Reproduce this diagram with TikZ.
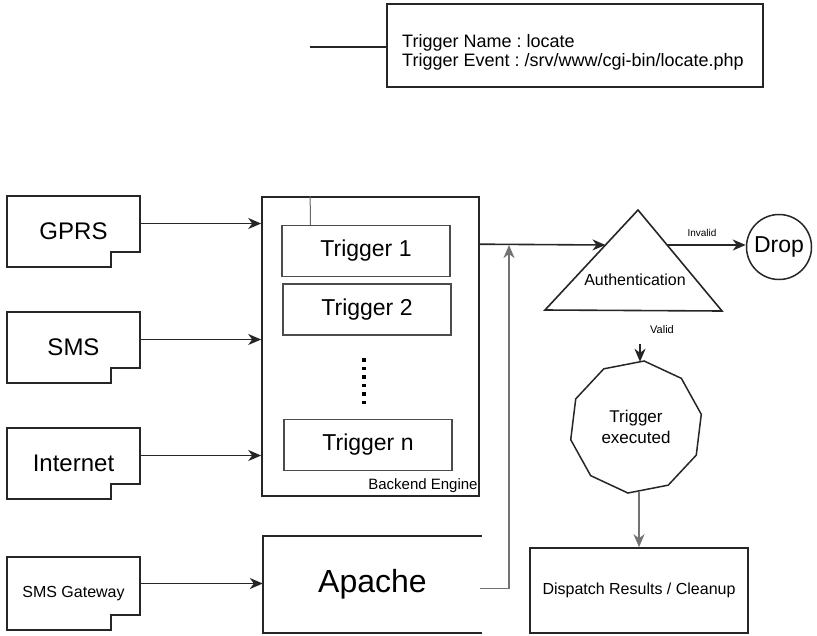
\documentclass[tikz,border=0pt]{standalone}
\usepackage{fontspec}
\setmainfont{Liberation Sans}
\usetikzlibrary{arrows.meta,shapes.geometric,calc}
\frenchspacing
\begin{document}
\begin{tikzpicture}[x=1pt,y=-1pt,
  line/.style={line width=1.6pt, draw=black!85},
  arr/.style={line, -{Stealth[length=13pt,width=11pt,inset=4pt]}},
  garr/.style={line width=1.6pt, draw=black!55, -{Stealth[length=13pt,width=11pt,inset=4pt]}},
  src/.style={rectangle, minimum width=133pt, minimum height=71pt, inner sep=0pt, font=\fontsize{24}{28}\selectfont},
  trig/.style={rectangle, draw=black!70, line width=1.3pt, minimum width=168pt, minimum height=51pt, inner sep=0pt, font=\fontsize{23}{27}\selectfont},
  boxed/.style={rectangle, draw=black!85, line width=1.6pt, inner sep=0pt},
  tiny/.style={font=\fontsize{10}{12}\selectfont, inner sep=0pt}
]
\useasboundingbox (0,0) rectangle (817,635);

% info box at top
\node[boxed, minimum width=376pt, minimum height=83pt] (info) at (575,45.5) {};
\node[anchor=west, align=left, inner sep=0pt, font=\fontsize{18}{19}\selectfont] (infotext) at (402,52.5)
  {Trigger Name : locate\\Trigger Event : /srv/www/cgi-bin/locate.php};
\coordinate (infoL) at (310,47);
\draw[line] (infoL) -- (infoL -| info.west);

% source boxes with notch
\node[src] (gprs) at (73.5,231.5) {GPRS};
\node[src] (sms) at (73.5,347.5) {SMS};
\node[src] (inet) at (73.5,463.5) {Internet};
\node[src, minimum height=73pt, font=\fontsize{16}{19}\selectfont] (smsgw) at (73.5,593.5) {SMS Gateway};
\foreach \n in {gprs,sms,inet,smsgw}{
  \draw[line, line width=1.7pt] (\n.north west) -- (\n.north east) -- ($(\n.south east)+(0,-15)$)
    -- ($(\n.south east)+(-29,-15)$) -- ($(\n.south east)+(-29,0)$) -- (\n.south west) -- cycle;
}

% backend engine
\node[boxed, minimum width=217pt, minimum height=299pt] (backend) at (370.5,346.5) {};
\node[anchor=south east, inner sep=0pt, font=\fontsize{15}{17}\selectfont] (belabel) at ($(backend.south east)+(-2,-4)$) {Backend Engine};
\node[trig] (trig1) at (366,251) {Trigger 1};
\node[trig] (trig2) at (367,309.5) {Trigger 2};
\node[trig] (trign) at (368,445) {Trigger n};
\draw[line width=1pt, draw=black!60] ($(backend.north west)+(49,0)$) -- ($(trig1.north west)+(29,0)$);
\draw[line width=3.5pt, dash pattern=on 3.5pt off 5pt] (364,358) -- (364,405);

% inputs
\foreach \n in {gprs,sms,inet}{
  \coordinate (\n o) at ($(\n.east)+(0,-8)$);
  \draw[arr] (\n o) -- (\n o -| backend.west);
}

% apache
\node[rectangle, minimum width=219pt, minimum height=97pt, inner sep=0pt, font=\fontsize{32}{36}\selectfont] (apache) at (372.5,584.5) {Apache};
\draw[line, line width=1.7pt] (apache.north east) -- (apache.north west) -- (apache.south west) -- (apache.south east);
\coordinate (gwo) at ($(smsgw.east)+(0,-10)$);
\draw[arr] (gwo) -- (gwo -| apache.west);

% authentication triangle
\coordinate (apex) at (638,210);
\coordinate (tbl) at (545,310);
\coordinate (tbr) at (722,311);
\draw[line] (apex) -- (tbl) -- (tbr) -- cycle;
\node[font=\fontsize{16}{18}\selectfont, inner sep=0pt] (auth) at (635,280) {Authentication};
\coordinate (authL) at (605.5,245);
\coordinate (authR) at (667,245);

\coordinate (bout) at ($(backend.north east)+(0,48)$);
\draw[arr] (bout) -- (authL);
\coordinate (junc) at (509,245);
\coordinate (apo) at ($(apache.east)+(-2,4)$);
\draw[garr] (apo) -| (junc);

% drop
\node[circle, draw=black!85, line width=1.5pt, minimum size=65pt, inner sep=0pt, font=\fontsize{23}{26}\selectfont] (drop) at (779,247) {Drop};
\draw[arr] (authR) -- (authR -| drop.west);
\node[tiny] (invalid) at (702,233) {Invalid};

% trigger executed
\node[tiny, font=\fontsize{11}{12}\selectfont] (valid) at (662,330) {Valid};
\node[regular polygon, regular polygon sides=10, regular polygon rotate=11, draw=black!85, line width=1.5pt,
  minimum size=133pt, inner sep=0pt, align=center, font=\fontsize{17}{21}\selectfont] (poly) at (636,427) {Trigger\\executed};
\coordinate (vtop) at (640,344);
\draw[arr] (vtop) -- (vtop |- poly.north);

% dispatch
\node[boxed, minimum width=218pt, minimum height=85pt, font=\fontsize{16}{19}\selectfont] (dispatch) at (639,590.5) {Dispatch Results / Cleanup};
\draw[garr] (dispatch.north |- poly.south) -- (dispatch.north);
\end{tikzpicture}
\end{document}
